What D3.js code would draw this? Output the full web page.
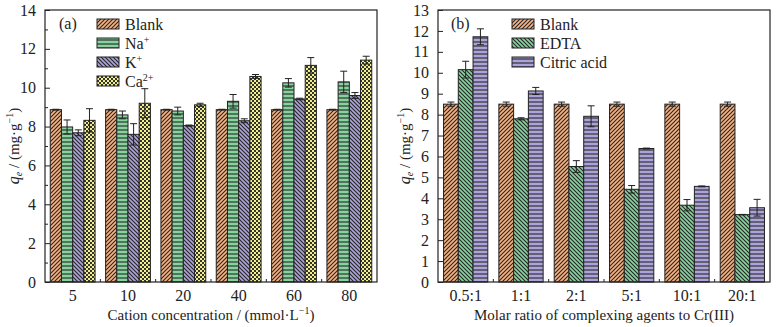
<!DOCTYPE html>
<html>
<head>
<meta charset="utf-8">
<script src="https://cdn.jsdelivr.net/npm/d3@7"></script>
<style>
  body { margin: 0; background: #fff; }
  svg text { font-family: "Liberation Serif", "DejaVu Serif", serif !important; fill: #222; }
</style>
</head>
<body>
<svg id="chart"></svg>
<script>
// ---- data (a) ----
const cationGroups = ["5", "10", "20", "40", "60", "80"];
const cationSeries = ["Blank", "Na", "K", "Ca"];
const blankA  = [8.87, 8.87, 8.87, 8.87, 8.87, 8.87];
const blankAErr = [0.02, 0.02, 0.02, 0.02, 0.02, 0.02];
const naVals  = [7.98, 8.60, 8.80, 9.30, 10.25, 10.30];
const naErr   = [0.36, 0.20, 0.20, 0.35, 0.22, 0.55];
const kVals   = [7.68, 7.60, 8.05, 8.30, 9.42, 9.60];
const kErr    = [0.15, 0.55, 0.03, 0.10, 0.04, 0.15];
const caVals  = [8.32, 9.20, 9.12, 10.58, 11.15, 11.42];
const caErr   = [0.60, 0.75, 0.08, 0.10, 0.40, 0.20];

// ---- data (b) ----
const ratioGroups = ["0.5:1", "1:1", "2:1", "5:1", "10:1", "20:1"];
const agentSeries = ["Blank", "EDTA", "Citric acid"];
const blankB  = [8.50, 8.50, 8.50, 8.50, 8.50, 8.50];
const blankBErr = [0.10, 0.10, 0.10, 0.10, 0.10, 0.10];
const edtaVals = [10.15, 7.80, 5.52, 4.43, 3.67, 3.22];
const edtaErr  = [0.40, 0.05, 0.28, 0.18, 0.27, 0.01];
const citVals  = [11.72, 9.13, 7.92, 6.38, 4.57, 3.55];
const citErr   = [0.38, 0.17, 0.50, 0.02, 0.02, 0.40];

const W = 777, H = 327;
const FONT = "Liberation Serif, DejaVu Serif, serif";
const svg = d3.select("#chart").attr("width", W).attr("height", H)
  .attr("font-family", FONT);
const ink = "#222";

// hatch patterns
const defs = svg.append("defs");
function hatch(id, bg, kind) {
  const p = defs.append("pattern").attr("id", id)
    .attr("patternUnits", "userSpaceOnUse");
  p.attr("width", 4).attr("height", 4);
  p.append("rect").attr("width", 4).attr("height", 4).attr("fill", bg);
  if (kind === "check") {
    p.append("rect").attr("width", 2).attr("height", 2).attr("fill", "#333");
    p.append("rect").attr("x", 2).attr("y", 2).attr("width", 2).attr("height", 2).attr("fill", "#333");
    return;
  }
  const l = p.append("path").attr("stroke", "#262626").attr("stroke-width", 1.1);
  if (kind === "h") l.attr("d", "M0,2H4");
  if (kind === "fwd") l.attr("d", "M-1,1L1,-1M0,4L4,0M3,5L5,3");
  if (kind === "back") l.attr("d", "M-1,3L1,5M0,0L4,4M3,-1L5,1");
}
hatch("pBlank", "#f6b183", "fwd");
hatch("pGreenH", "#86d39d", "h");
hatch("pGreenB", "#86d39d", "back");
hatch("pPurpB", "#aba3da", "back");
hatch("pPurpH", "#aba3da", "h");
hatch("pCa", "#f1f08a", "check");

function panel(opt) {
  const g = svg.append("g");
  const x = d3.scaleBand().domain(opt.groups).range([opt.x0, opt.x1])
    .paddingInner(opt.padIn).paddingOuter(opt.padIn / 2);
  const xs = d3.scaleBand().domain(opt.series.map(s => s.name)).range([0, x.bandwidth()]);
  const y = d3.scaleLinear().domain([0, opt.ymax]).range([opt.y0, opt.y1]);

  // bars + error bars
  opt.series.forEach(s => {
    const sg = g.append("g");
    sg.selectAll("rect").data(opt.groups).join("rect")
      .attr("x", (d, i) => x(d) + xs(s.name))
      .attr("y", (d, i) => y(s.vals[i]))
      .attr("width", xs.bandwidth())
      .attr("height", (d, i) => y(0) - y(s.vals[i]))
      .attr("fill", `url(#${s.pat})`)
      .attr("stroke", ink).attr("stroke-width", 1);
    const cx = (d) => x(d) + xs(s.name) + xs.bandwidth() / 2;
    sg.selectAll("path.err").data(opt.groups).join("path").attr("class", "err")
      .attr("d", (d, i) => {
        const c = cx(d), hi = y(s.vals[i] + s.err[i]), lo = y(s.vals[i] - s.err[i]);
        return `M${c - 3.5},${hi}H${c + 3.5}M${c},${hi}V${lo}M${c - 3.5},${lo}H${c + 3.5}`;
      })
      .attr("fill", "none").attr("stroke", ink).attr("stroke-width", 1);
  });

  // frame
  g.append("rect").attr("x", opt.x0).attr("y", opt.y1)
    .attr("width", opt.x1 - opt.x0).attr("height", opt.y0 - opt.y1)
    .attr("fill", "none").attr("stroke", ink).attr("stroke-width", 1.2);

  // y axis (ticks inward)
  const ya = g.append("g").attr("transform", `translate(${opt.x0},0)`)
    .call(d3.axisLeft(y).tickValues(opt.yticks).tickSize(-5).tickPadding(9));
  ya.attr("font-family", FONT).attr("font-size", null);
  ya.select(".domain").remove();
  ya.selectAll("line").attr("stroke", ink);
  ya.selectAll("text").style("font-size", "16px").attr("fill", ink);
  if (opt.yminor) {
    const ym = g.append("g").attr("transform", `translate(${opt.x0},0)`)
      .call(d3.axisLeft(y).tickValues(opt.yminor).tickSize(-3).tickFormat(""));
    ym.select(".domain").remove();
    ym.selectAll("line").attr("stroke", ink);
  }

  // x axis: labels at group centers, small ticks between groups
  const xa = g.append("g").attr("transform", `translate(0,${opt.y0})`)
    .call(d3.axisBottom(x).tickSize(0).tickPadding(8));
  xa.attr("font-family", FONT).attr("font-size", null);
  xa.select(".domain").remove();
  xa.selectAll("text").style("font-size", "16px").attr("fill", ink);
  const step = x.step();
  g.selectAll("line.xm").data(opt.groups.slice(1)).join("line").attr("class", "xm")
    .attr("x1", d => x(d) - (step - x.bandwidth()) / 2)
    .attr("x2", d => x(d) - (step - x.bandwidth()) / 2)
    .attr("y1", opt.y0).attr("y2", opt.y0 - 3)
    .attr("stroke", ink);

  // axis titles
  g.append("text").attr("x", (opt.x0 + opt.x1) / 2).attr("y", 320)
    .attr("text-anchor", "middle").attr("font-family", FONT).style("font-size", "15px")
    .html(opt.xtitle);
  const yt = g.append("text")
    .attr("transform", `translate(${opt.x0 - opt.ytOff},${(opt.y0 + opt.y1) / 2}) rotate(-90)`)
    .attr("text-anchor", "middle").attr("font-family", FONT).style("font-size", "15px");
  yt.append("tspan").attr("font-style", "italic").style("font-size", "16px").text("q");
  yt.append("tspan").attr("font-style", "italic").attr("dy", 3).style("font-size", "10px").text("e");
  yt.append("tspan").attr("dy", -3).text(" / (mg\u00b7g");
  yt.append("tspan").attr("dy", -6).style("font-size", "10px").text("\u22121");
  yt.append("tspan").attr("dy", 6).text(")");

  // panel tag
  g.append("text").attr("x", opt.tagX).attr("y", 29)
    .attr("font-family", FONT).style("font-size", "16px").text(opt.tag);

  // legend
  const lg = g.append("g").attr("transform", `translate(${opt.legX},19)`);
  opt.series.forEach((s, i) => {
    const r = lg.append("g").attr("transform", `translate(0,${i * 19})`);
    r.append("rect").attr("width", 22).attr("height", 10)
      .attr("fill", `url(#${s.pat})`).attr("stroke", ink).attr("stroke-width", 1);
    const t = r.append("text").attr("x", 28).attr("y", 10.5)
      .attr("font-family", FONT).style("font-size", "16px");
    t.append("tspan").text(s.label[0]);
    if (s.label[1]) t.append("tspan").attr("dy", -6).style("font-size", "10px").text(s.label[1]);
  });
}

panel({
  groups: cationGroups, x0: 45, x1: 377, y0: 282, y1: 10, ymax: 14, padIn: 0.19,
  yticks: d3.range(0, 15, 2), yminor: d3.range(1, 14, 2),
  series: [
    { name: cationSeries[0], vals: blankA, err: blankAErr, pat: "pBlank", label: ["Blank"] },
    { name: cationSeries[1], vals: naVals, err: naErr, pat: "pGreenH", label: ["Na", "+"] },
    { name: cationSeries[2], vals: kVals, err: kErr, pat: "pPurpB", label: ["K", "+"] },
    { name: cationSeries[3], vals: caVals, err: caErr, pat: "pCa", label: ["Ca", "2+"] }
  ],
  xtitle: "Cation concentration / (mmol\u00b7L<tspan dy='-6' style='font-size:10px'>\u22121</tspan><tspan dy='6'>)</tspan>",
  ytOff: 26, tag: "(a)", tagX: 59, legX: 97
});

panel({
  groups: ratioGroups, x0: 438, x1: 770, y0: 282, y1: 10, ymax: 13, padIn: 0.2,
  yticks: d3.range(0, 14, 1), yminor: null,
  series: [
    { name: agentSeries[0], vals: blankB, err: blankBErr, pat: "pBlank", label: ["Blank"] },
    { name: agentSeries[1], vals: edtaVals, err: edtaErr, pat: "pGreenB", label: ["EDTA"] },
    { name: agentSeries[2], vals: citVals, err: citErr, pat: "pPurpH", label: ["Citric acid"] }
  ],
  xtitle: "Molar ratio of complexing agents to Cr(III)",
  ytOff: 28, tag: "(b)", tagX: 451, legX: 512
});
</script>
</body>
</html>
